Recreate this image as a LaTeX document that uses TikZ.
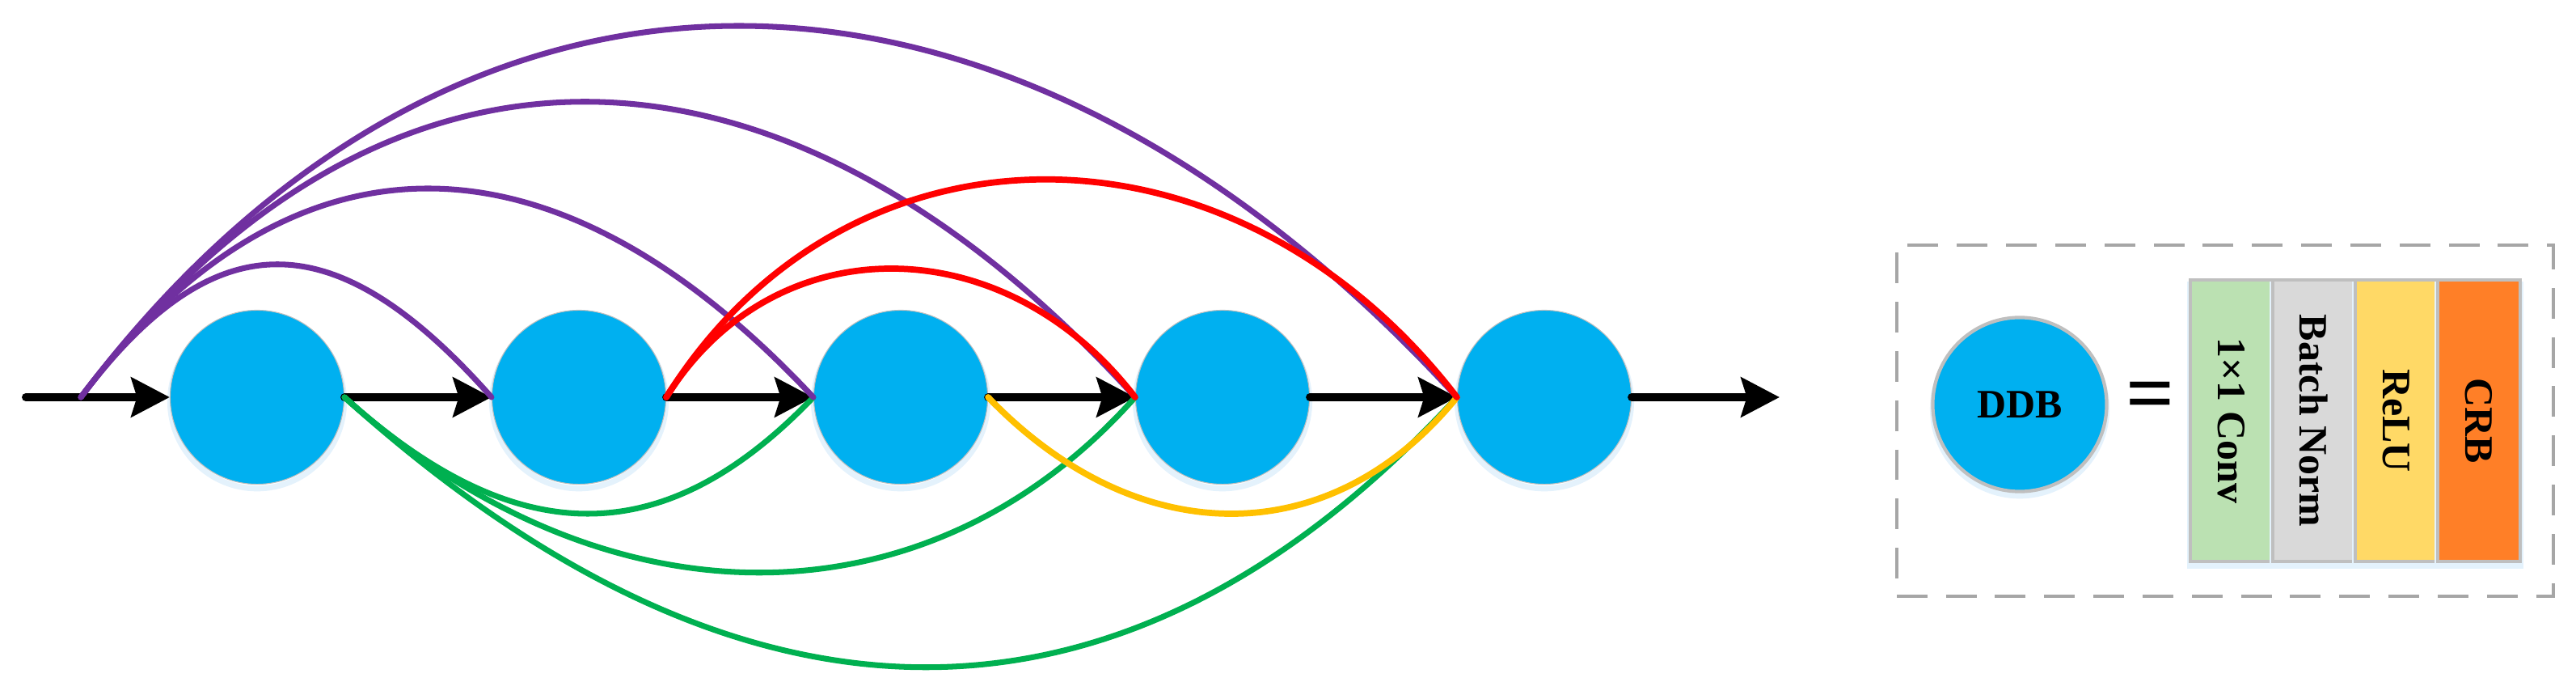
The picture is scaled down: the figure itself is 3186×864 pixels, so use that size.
\documentclass[tikz,border=0pt]{standalone}
\usepackage{fontspec}
\setmainfont{Liberation Serif}
\usetikzlibrary{arrows.meta}
\definecolor{cblue}{HTML}{00B0F0}
\definecolor{cpurple}{HTML}{7030A0}
\definecolor{cred}{HTML}{FF0000}
\definecolor{cgreen}{HTML}{00B050}
\definecolor{cyellow}{HTML}{FFC000}
\definecolor{lgreen}{HTML}{BBE1B2}
\definecolor{lgray}{HTML}{D9D9D9}
\definecolor{lyellow}{HTML}{FFD966}
\definecolor{lorange}{HTML}{FF7F27}
\definecolor{edgegray}{HTML}{BFBFBF}
\definecolor{dashgray}{HTML}{A6A6A6}
\definecolor{glow}{HTML}{E4F2FC}
\begin{document}
\begin{tikzpicture}[x=0.01cm, y=-0.01cm,
  glowed/.style={preaction={draw=glow, line width=2pt, transform canvas={yshift=-1.5pt}}},
  ddb/.style={circle, fill=cblue, draw=edgegray, line width=0.3pt, minimum size=2.15cm, inner sep=0pt, glowed},
  flow/.style={line width=2.85pt, line cap=round, -{Stealth[length=13.5pt,width=13.8pt,inset=2pt]}},
  link/.style={line width=2pt, line cap=round},
  strip/.style={draw=edgegray, line width=1.1pt, rotate=-90, minimum width=3.48cm, minimum height=1.02cm, inner sep=0pt, font=\bfseries\fontsize{14.2}{16}\selectfont},
  legendbox/.style={draw=dashgray, line width=1.1pt, dash pattern=on 10.8pt off 6.5pt, minimum width=8.12cm, minimum height=4.34cm, inner sep=0pt}
]
\useasboundingbox (0,0) rectangle (3186,864);
% blocks
\node[ddb] (c1) at (318,491) {};
\node[ddb] (c2) at (716,491) {};
\node[ddb] (c3) at (1114,491) {};
\node[ddb] (c4) at (1512,491) {};
\node[ddb] (c5) at (1910,491) {};
\coordinate (start) at (32,491);
\coordinate (in) at (100,491);
\coordinate (out) at (2201,491);
% main flow
\draw[flow] (start) -- (c1.west);
\draw[flow] (c1.east) -- (c2.west);
\draw[flow] (c2.east) -- (c3.west);
\draw[flow] (c3.east) -- (c4.west);
\draw[flow] (c4.east) -- (c5.west);
\draw[flow] (c5.east) -- (out);
% green (from block 1)
\draw[link, cgreen] (c1.east) .. controls +(494,445) and +(-411,445) .. (c5.west);
\draw[link, cgreen] (c1.east) .. controls +(321,289) and +(-257,289) .. (c4.west);
\draw[link, cgreen] (c1.east) .. controls +(213,192) and +(-184,192) .. (c3.west);
% yellow (from block 3)
\draw[link, cyellow, line width=2.2pt] (c3.east) .. controls +(185,192) and +(-156,192) .. (c5.west);
% purple (from input)
\draw[link, cpurple] (in) .. controls +(461,-612) and +(-560,-612) .. (c5.west);
\draw[link, cpurple] (in) .. controls +(367,-487) and +(-443,-487) .. (c4.west);
\draw[link, cpurple] (in) .. controls +(259,-344) and +(-322,-344) .. (c3.west);
\draw[link, cpurple] (in) .. controls +(165,-219) and +(-194,-219) .. (c2.west);
% red (from block 2)
\draw[link, cred, line width=2.2pt] (c2.east) .. controls +(224,-359) and +(-276,-359) .. (c5.west);
\draw[link, cred, line width=2.2pt] (c2.east) .. controls +(132,-212) and +(-163,-212) .. (c4.west);
% legend
\node[legendbox] (legend) at (2752,520) {};
\node[ddb, line width=1.2pt, font=\bfseries\fontsize{14.2}{16}\selectfont] (key) at (2498,500) {DDB};
\node[font=\bfseries\fontsize{30}{30}\selectfont, inner sep=0pt] (eq) at (2660,497) {=};
\node[strip, fill=lgreen, glowed] (s1) at (2760,520) {1×1 Conv};
\node[strip, fill=lgray, glowed] (s2) at (2862,520) {Batch Norm};
\node[strip, fill=lyellow, glowed] (s3) at (2964,520) {ReLU};
\node[strip, fill=lorange, glowed] (s4) at (3066,520) {CRB};
\end{tikzpicture}
\end{document}
